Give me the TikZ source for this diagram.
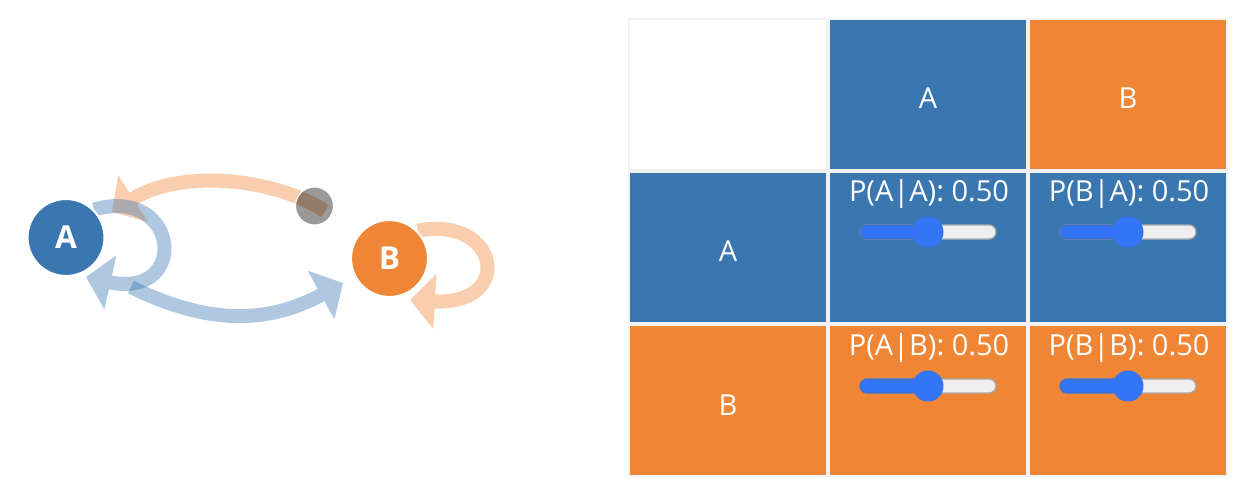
\documentclass[tikz,border=0pt]{standalone}
\usepackage{fontspec}
\setmainfont{Open Sans}
\usetikzlibrary{arrows.meta}
\definecolor{colA}{HTML}{3A76AF}
\definecolor{colB}{HTML}{EF8636}
\definecolor{gridGray}{HTML}{F2F2F2}
\definecolor{knobBlue}{HTML}{3274F5}
\definecolor{knobEdge}{HTML}{4F6FB8}
\definecolor{trackGray}{HTML}{EFEFEF}
\definecolor{trackEdge}{HTML}{AAAAAA}
\pgfdeclarelayer{bg}
\pgfsetlayers{bg,main}
\tikzset{
  state/.style={circle, fill=#1, draw=white, line width=1.2pt, minimum size=1.54cm,
    inner sep=0pt, text=white, font=\bfseries\fontsize{18}{18}\selectfont},
  walker/.style={circle, fill=black, fill opacity=0.4, draw=white, line width=0.6pt,
    minimum size=0.76cm, inner sep=0pt},
  link/.style={draw=#1, line width=0.28cm, -{Triangle[length=0.5cm, width=1.08cm]}},
  cell/.style={fill=#1, minimum width=3.92cm, minimum height=2.98cm, inner sep=0pt},
  celltext/.style={text=white, inner sep=0pt, font=\fontsize{16.5}{18}\selectfont},
}
% slider at (#1,#2), knob in the middle
\def\slider#1#2{
  \filldraw[fill=trackGray, draw=trackEdge, line width=0.8pt, rounded corners=0.14cm]
    (#1-68,#2-7) rectangle (#1+68,#2+7);
  \filldraw[fill=knobBlue, draw=knobEdge, line width=0.8pt, rounded corners=0.14cm]
    (#1-68,#2-7) rectangle (#1,#2+7);
  \fill[knobBlue] (#1,#2) circle[radius=0.31cm];
}
\begin{document}
\begin{tikzpicture}[x=0.02cm, y=-0.02cm]
  \useasboundingbox (0,0) rectangle (1254,498);
  % the chain
  \node[state=colA] (a) at (66,237.5) {A};
  \node[state=colB] (b) at (389.5,258.5) {B};
  \node[walker] (walker) at (314.5,206) {};
  \coordinate (aLoopTip) at (86,277);
  \coordinate (bLoopTip) at (410,300);
  \coordinate (abTail) at (131,287);
  \coordinate (abTip) at (343,283);
  \coordinate (baTail) at (325,211);
  \coordinate (baTip) at (112,212);
  \begin{pgfonlayer}{bg}
    \fill[white] (0,0) rectangle (1254,498);
    \begin{scope}[transparency group, opacity=0.4]
      \draw[link=colB] (baTail) .. controls (270,176) and (178,170) .. (baTip);
    \end{scope}
    \begin{scope}[transparency group, opacity=0.4]
      \draw[link=colA] (a.45) .. controls (180,185) and (190,300) .. (aLoopTip);
    \end{scope}
    \begin{scope}[transparency group, opacity=0.4]
      \draw[link=colA] (abTail) .. controls (208,325) and (268,324) .. (abTip);
    \end{scope}
    \begin{scope}[transparency group, opacity=0.4]
      \draw[link=colB] (b.45) .. controls (500,215) and (515,306) .. (bLoopTip);
    \end{scope}
  \end{pgfonlayer}
  % the matrix
  \fill[gridGray] (628,18) rectangle (1228,477);
  \node[cell=white] (corner) at (728,94.5) {};
  \node[cell=colA] (headA) at (928,94.5) {};
  \node[cell=colB] (headB) at (1128,94.5) {};
  \node[cell=colA] (rowA) at (728,247.5) {};
  \node[cell=colA] (aa) at (928,247.5) {};
  \node[cell=colA] (ba) at (1128,247.5) {};
  \node[cell=colB] (rowB) at (728,400.5) {};
  \node[cell=colB] (ab) at (928,400.5) {};
  \node[cell=colB] (bb) at (1128,400.5) {};
  \node[celltext] (headAText) at (928,98) {A};
  \node[celltext] (headBText) at (1128,98) {B};
  \node[celltext] (rowAText) at (728,251) {A};
  \node[celltext] (rowBText) at (728,405) {B};
  \node[celltext] (aaText) at (929,194) {P(A|A): 0.50};
  \node[celltext] (baText) at (1129,194) {P(B|A): 0.50};
  \node[celltext] (abText) at (929,347.5) {P(A|B): 0.50};
  \node[celltext] (bbText) at (1129,347.5) {P(B|B): 0.50};
  \slider{928}{232}
  \slider{1128}{232}
  \slider{928}{386}
  \slider{1128}{386}
\end{tikzpicture}
\end{document}
